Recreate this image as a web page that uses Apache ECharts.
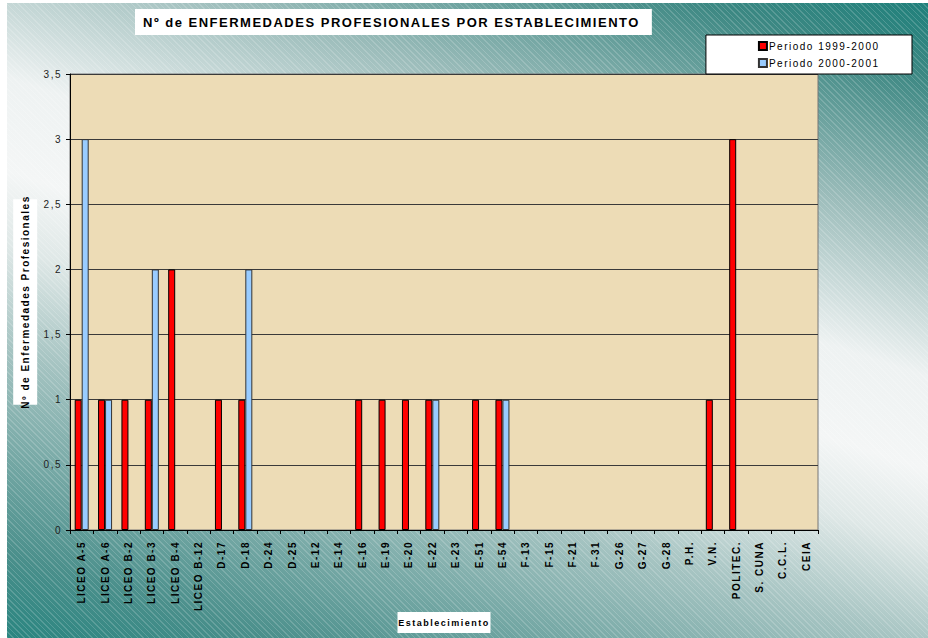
<!DOCTYPE html>
<html>
<head>
<meta charset="utf-8">
<script src="https://cdn.jsdelivr.net/npm/echarts@6/dist/echarts.min.js"></script>
<style>
  html, body { margin: 0; padding: 0; background: #fff; }
  #wrap { position: relative; width: 928px; height: 638px; overflow: hidden; }
  #bg {
    position: absolute; left: 7px; top: 3px; right: 0; bottom: 0;
    background:
      repeating-linear-gradient(45deg, rgba(255,255,255,0.17) 0 1px, rgba(255,255,255,0) 1px 4px),
      linear-gradient(18deg, #2a8580 0%, #4a8f8b 9%, #a6c4c2 31%, #dfe8e7 42%, #f4f6f6 50%,
        #eef2f2 60%, #9bbcba 76%, #3d8883 92%, #1f807b 100%);
  }
  #chart { position: absolute; left: 0; top: 0; width: 928px; height: 638px; }
  /* the original chart spreads its letters out */
  #chart text { letter-spacing: 1.5px; }
</style>
</head>
<body>
<div id="wrap">
  <div id="bg"></div>
  <div id="chart"></div>
</div>
<script>
const categories = ['LICEO A-5', 'LICEO A-6', 'LICEO B-2', 'LICEO B-3', 'LICEO B-4', 'LICEO B-12',
  'D-17', 'D-18', 'D-24', 'D-25', 'E-12', 'E-14', 'E-16', 'E-19', 'E-20', 'E-22', 'E-23',
  'E-51', 'E-54', 'F-13', 'F-15', 'F-21', 'F-31', 'G-26', 'G-27', 'G-28', 'P.H.', 'V.N.',
  'POLITEC.', 'S. CUNA', 'C.C.L.', 'CEIA']
const periodo1999 = [1, 1, 1, 1, 2, 0, 1, 1, 0, 0, 0, 0, 1, 1, 1, 1, 0, 1, 1, 0, 0, 0, 0, 0, 0, 0, 0, 1, 3, 0, 0, 0]
const periodo2000 = [3, 1, 0, 2, 0, 0, 0, 2, 0, 0, 0, 0, 0, 0, 0, 1, 0, 0, 1, 0, 0, 0, 0, 0, 0, 0, 0, 0, 0, 0, 0, 0]

const chart = echarts.init(document.getElementById('chart'), null, { renderer: 'svg' })

const font = '"Liberation Sans", Arial, sans-serif'

// zero values are not drawn in the original (no flat bar outline)
const noZero = arr => arr.map(v => (v === 0 ? null : v))

chart.setOption({
  backgroundColor: 'transparent',
  textStyle: { fontFamily: font },
  title: {
    text: 'Nº de ENFERMEDADES PROFESIONALES POR ESTABLECIMIENTO',
    left: 135,
    top: 9,
    backgroundColor: '#fff',
    padding: [7, 90, 6, 8],
    textStyle: { fontSize: 13, fontWeight: 'bold', color: '#000', fontFamily: font }
  },
  legend: {
    orient: 'vertical',
    right: 16,
    top: 35,
    backgroundColor: '#fff',
    borderColor: '#000',
    borderWidth: 1,
    padding: [6, 58, 6, 52],
    itemGap: 7,
    itemWidth: 8,
    itemHeight: 8,
    icon: 'rect',
    textStyle: { fontSize: 10, color: '#000', padding: [0, 0, 0, -3] },
    data: ['Periodo 1999-2000', 'Periodo 2000-2001']
  },
  grid: {
    left: 70,
    right: 110,
    top: 74,
    bottom: 97,
    show: true,
    backgroundColor: '#eddcb6',
    borderColor: '#777',
    borderWidth: 1
  },
  xAxis: {
    type: 'category',
    data: categories,
    name: 'Establecimiento',
    nameLocation: 'middle',
    nameGap: 82,
    nameTextStyle: {
      fontSize: 9, fontWeight: 'bold', color: '#000',
      backgroundColor: '#fff', padding: [6, 12, 6, 12]
    },
    axisLine: { lineStyle: { color: '#000', width: 1 } },
    axisTick: { show: true, alignWithLabel: false, length: 4, lineStyle: { color: '#000' } },
    axisLabel: {
      rotate: 90,
      interval: 0,
      fontSize: 10,
      fontWeight: 'bold',
      color: '#000',
      margin: 11
    }
  },
  yAxis: {
    type: 'value',
    min: 0,
    max: 3.5,
    interval: 0.5,
    name: 'Nº de Enfermedades Profesionales',
    nameLocation: 'middle',
    nameRotate: 90,
    nameGap: 26,
    nameTextStyle: {
      fontSize: 10, fontWeight: 'bold', color: '#000',
      backgroundColor: '#fff', padding: [7, 20, 7, 20]
    },
    axisLine: { show: true, lineStyle: { color: '#000', width: 1 } },
    axisTick: { show: true, length: 4, lineStyle: { color: '#000' } },
    axisLabel: {
      fontSize: 10,
      color: '#222',
      margin: 8,
      formatter: v => String(v).replace('.', ',')
    },
    splitLine: { show: true, lineStyle: { color: '#3a3a3a', width: 1 } }
  },
  series: [
    {
      name: 'Periodo 1999-2000',
      type: 'bar',
      data: noZero(periodo1999),
      barWidth: 7,
      barGap: '0%',
      itemStyle: { color: '#ff0000', borderColor: '#000', borderWidth: 1 }
    },
    {
      name: 'Periodo 2000-2001',
      type: 'bar',
      data: noZero(periodo2000),
      barWidth: 7,
      barGap: '0%',
      itemStyle: { color: '#99ccff', borderColor: '#333', borderWidth: 1 }
    }
  ]
})
</script>
</body>
</html>
